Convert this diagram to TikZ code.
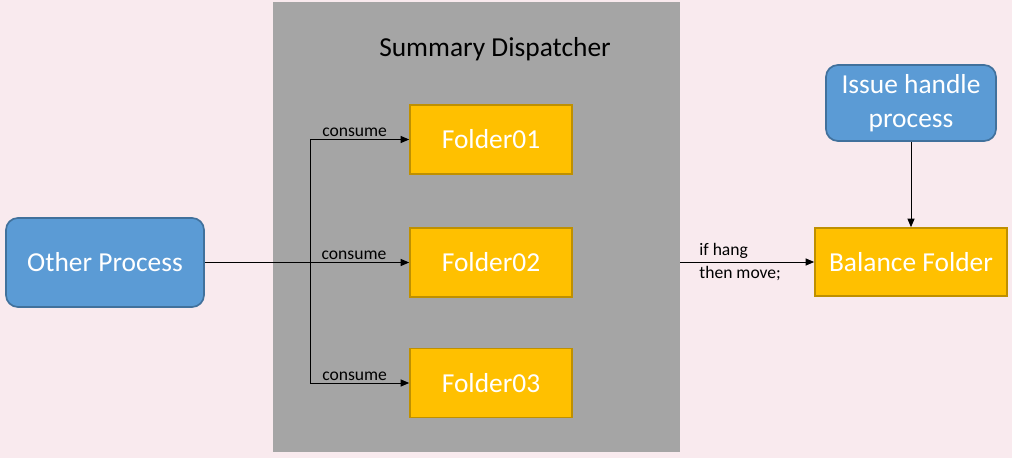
\documentclass[tikz,border=0pt]{standalone}
\usepackage{fontspec}
\setmainfont{Carlito}
\usetikzlibrary{arrows.meta}
\definecolor{bgpink}{RGB}{249,234,238}
\definecolor{panelgray}{RGB}{165,165,165}
\definecolor{folderfill}{RGB}{255,192,0}
\definecolor{folderline}{RGB}{191,144,0}
\definecolor{procfill}{RGB}{91,155,213}
\definecolor{procline}{RGB}{65,113,156}
\tikzset{
	folder/.style={draw=folderline, line width=1.2pt, fill=folderfill, text=white,
		minimum width=4.05cm, minimum height=1.725cm, font=\fontsize{19.5}{23}\selectfont},
	proc/.style={draw=procline, line width=1.2pt, fill=procfill, text=white, rounded corners=0.3cm,
		align=center, font=\fontsize{19.5}{24}\selectfont},
	flow/.style={-{Triangle[length=6pt,width=5pt]}, line width=0.6pt},
	lbl/.style={font=\fontsize{12.5}{15}\selectfont, inner sep=1.5pt}
}
\begin{document}
\begin{tikzpicture}[x=0.025cm, y=-0.025cm]
	\fill[bgpink] (0,0) rectangle (1012,458);
	\useasboundingbox (0,0) rectangle (1012,458);
	\fill[panelgray] (273,2) rectangle (680,452);
	\node[font=\fontsize{19.5}{23}\selectfont] (title) at (495,49) {Summary Dispatcher};
	\foreach \i/\y in {1/139.5,2/262.5,3/383}{
		\node[folder] (f\i) at (491,\y) {Folder0\i};
	}
	\node[proc, minimum width=4.95cm, minimum height=2.225cm] (op) at (105,262.5) {Other Process};
	\node[proc, minimum width=4.25cm, minimum height=1.9cm] (ih) at (911,103) {Issue handle\\process};
	\node[folder, minimum width=4.8cm, minimum height=1.7cm] (bf) at (911,262) {Balance Folder};
	\coordinate (split) at (310,262.5);
	\coordinate (out) at (680,262);
	\draw[flow] (op.east) -- node[lbl, above, pos=0.73] {consume} (f2.west);
	\draw[flow] (split) |- node[lbl, above, pos=0.725] {consume} (f1.west);
	\draw[flow] (split) |- node[lbl, above, pos=0.725] {consume} (f3.west);
	\draw[flow] (out) -- (bf.west);
	\node[lbl, right, align=left, font=\fontsize{12.5}{16.5}\selectfont] (hang) at (697,262) {if hang\\then move;};
	\draw[flow] (ih.south) -- (bf.north);
\end{tikzpicture}
\end{document}
